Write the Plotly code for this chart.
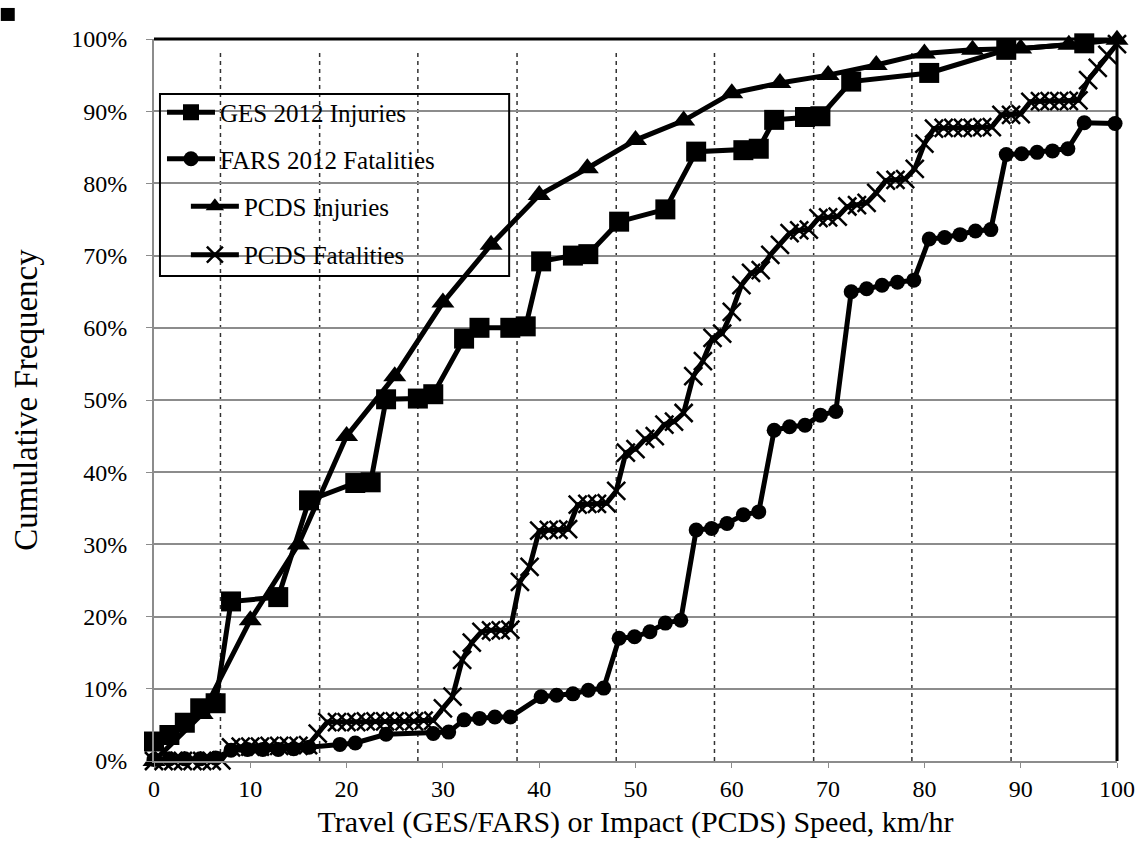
import plotly.graph_objects as go

# ---------------- data ----------------
ges_x = [0, 1.6, 3.2, 4.8, 6.4, 8.0, 12.9, 16.1, 20.9, 22.5, 24.1, 27.4, 29.0, 32.2, 33.8,
         37.0, 38.6, 40.2, 43.5, 45.1, 48.3, 53.1, 56.3, 61.2, 62.8, 64.4, 67.6, 69.2,
         72.4, 80.5, 88.5, 96.6]
ges_y = [2.7, 3.6, 5.3, 7.3, 8.0, 22.1, 22.7, 36.1, 38.5, 38.6, 50.1, 50.2, 50.8, 58.5, 60.0,
         60.0, 60.2, 69.2, 70.0, 70.2, 74.7, 76.4, 84.4, 84.6, 84.8, 88.8, 89.2, 89.3,
         94.1, 95.3, 98.5, 99.4]

fars_x = [0, 1.6, 3.2, 4.8, 6.4, 8.0, 9.7, 11.3, 12.9, 14.5, 16.1, 19.3, 20.9, 24.1, 29.0,
          30.6, 32.2, 33.8, 35.4, 37.0, 40.2, 41.8, 43.5, 45.1, 46.7, 48.3, 49.9, 51.5,
          53.1, 54.7, 56.3, 57.9, 59.5, 61.2, 62.8, 64.4, 66.0, 67.6, 69.2, 70.8, 72.4,
          74.0, 75.6, 77.2, 78.9, 80.5, 82.1, 83.7, 85.3, 86.9, 88.5, 90.1, 91.7, 93.3,
          94.9, 96.6, 99.8]
fars_y = [0.2, 0.3, 0.3, 0.3, 0.4, 1.5, 1.6, 1.6, 1.6, 1.7, 1.9, 2.3, 2.5, 3.7, 3.8,
          4.0, 5.7, 5.9, 6.1, 6.1, 8.9, 9.1, 9.3, 9.8, 10.1, 17.0, 17.2, 17.9,
          19.1, 19.5, 32.0, 32.2, 32.9, 34.1, 34.5, 45.8, 46.3, 46.5, 47.9, 48.4, 65.0,
          65.4, 65.9, 66.3, 66.6, 72.3, 72.5, 72.9, 73.4, 73.6, 84.0, 84.1, 84.3, 84.5,
          84.8, 88.4, 88.3]

pcds_inj_x = [0, 5, 10, 15, 20, 25, 30, 35, 40, 45, 50, 55, 60, 65, 70, 75, 80, 85, 90, 95, 100]
pcds_inj_y = [0.0, 6.5, 19.5, 30.0, 45.0, 53.3, 63.5, 71.5, 78.4, 82.1, 86.0, 88.7, 92.5,
              93.9, 95.0, 96.4, 98.0, 98.5, 98.7, 99.2, 99.9]

pcds_fat_x = [0, 1, 2, 3, 4, 5, 6, 7, 8, 9, 10, 11, 12, 13, 14, 15, 16, 17, 18, 19,
              20, 21, 22, 23, 24, 25, 26, 27, 28, 29, 30, 31, 32, 33, 34, 35, 36, 37, 38, 39,
              40, 41, 42, 43, 44, 45, 46, 47, 48, 49, 50, 51, 52, 53, 54, 55, 56, 57, 58, 59,
              60, 61, 62, 63, 64, 65, 66, 67, 68, 69, 70, 71, 72, 73, 74, 75, 76, 77, 78, 79,
              80, 81, 82, 83, 84, 85, 86, 87, 88, 89, 90, 91, 92, 93, 94, 95, 96, 97, 98, 99, 100]
pcds_fat_y = [0.0, 0.0, 0.0, 0.0, 0.0, 0.0, 0.0, 0.1, 1.9, 2.0, 2.0, 2.0, 2.1, 2.1, 2.1, 2.1, 2.2, 3.8,
              5.4, 5.4, 5.4, 5.4, 5.5, 5.5, 5.5, 5.5, 5.5, 5.5, 5.6, 5.6,
              7.3, 8.9, 14.0, 16.4, 17.9, 18.1, 18.1, 18.2, 24.8, 26.9,
              31.9, 32.0, 32.0, 32.1, 35.5, 35.6, 35.6, 35.7, 37.4, 42.7,
              43.2, 44.6, 45.0, 46.6, 47.0, 48.2, 53.3, 55.4, 58.6, 59.2,
              62.2, 65.9, 67.6, 68.0, 70.1, 71.5, 73.1, 73.5, 73.6, 75.2,
              75.3, 75.4, 76.8, 77.0, 77.3, 78.7, 80.4, 80.5, 80.6, 82.0,
              85.5, 87.6, 87.7, 87.7, 87.7, 87.7, 87.8, 87.8, 89.5, 89.5,
              89.6, 91.3, 91.4, 91.4, 91.4, 91.4, 91.5, 94.3, 96.0, 97.8, 99.3]

series_names = ["GES 2012 Injuries", "FARS 2012 Fatalities", "PCDS Injuries", "PCDS Fatalities"]

x_ticks = [0, 10, 20, 30, 40, 50, 60, 70, 80, 90, 100]
y_ticks = [0, 10, 20, 30, 40, 50, 60, 70, 80, 90, 100]
vgrid_x = [6.9, 17.2, 27.4, 37.7, 48.0, 58.2, 68.5, 78.7, 89.0]

x_title = "Travel (GES/FARS) or Impact (PCDS) Speed, km/hr"
y_title = "Cumulative Frequency"

# ---------------- figure ----------------
FONT = "Liberation Serif, Times New Roman, serif"
LINE = dict(color="black", width=5)

fig = go.Figure()
fig.add_trace(go.Scatter(x=ges_x, y=ges_y, name=series_names[0], mode="lines+markers",
                         line=LINE, marker=dict(symbol="square", size=20, color="black"),
                         cliponaxis=False, legendgroup="a", legend="legend"))
fig.add_trace(go.Scatter(x=fars_x, y=fars_y, name=series_names[1], mode="lines+markers",
                         line=LINE, marker=dict(symbol="circle", size=15, color="black"),
                         cliponaxis=False, legendgroup="b", legend="legend"))
fig.add_trace(go.Scatter(x=pcds_inj_x, y=pcds_inj_y, name=series_names[2], mode="lines+markers",
                         line=LINE, marker=dict(symbol="triangle-up", size=20, color="black"),
                         cliponaxis=False, legendgroup="c", legend="legend2"))
fig.add_trace(go.Scatter(x=pcds_fat_x, y=pcds_fat_y, name=series_names[3], mode="lines+markers",
                         line=LINE,
                         marker=dict(symbol="x-thin", size=18, color="black",
                                     line=dict(color="black", width=2.5)),
                         cliponaxis=False, legendgroup="d", legend="legend2"))

shapes = []
for vx in vgrid_x:
    shapes.append(dict(type="line", xref="x", yref="paper", x0=vx, x1=vx, y0=0, y1=0.985,
                       line=dict(color="#333333", width=1.5, dash="4px,4px"), layer="below"))
# top and right frame (black)
shapes.append(dict(type="line", xref="paper", yref="paper", x0=0, x1=1, y0=1, y1=1,
                   line=dict(color="black", width=3)))
shapes.append(dict(type="line", xref="paper", yref="paper", x0=1, x1=1, y0=0, y1=1,
                   line=dict(color="black", width=3)))
# legend frame
shapes.append(dict(type="rect", xref="paper", yref="paper", x0=0.0062, x1=0.3688,
                   y0=0.6717, y1=0.9238, line=dict(color="black", width=2),
                   fillcolor="rgba(0,0,0,0)"))
# small black square at the very top-left of the image
shapes.append(dict(type="rect", xref="paper", yref="paper", x0=-0.1591, x1=-0.1446,
                   y0=1.025, y1=1.043, fillcolor="black", line=dict(width=0)))

legend_common = dict(xanchor="left", yanchor="top", bgcolor="rgba(0,0,0,0)",
                     borderwidth=0, font=dict(family=FONT, size=25, color="black"),
                     traceorder="grouped", itemwidth=48)

fig.update_layout(
    width=1147, height=850,
    margin=dict(l=154, r=25, t=39, b=89),
    paper_bgcolor="white", plot_bgcolor="white",
    font=dict(family=FONT, color="black", size=24),
    showlegend=True,
    legend=dict(x=0.0083, y=0.930, tracegroupgap=11, **legend_common),
    legend2=dict(x=0.0331, y=0.800, tracegroupgap=13, **legend_common),
    shapes=shapes,
    xaxis=dict(range=[0, 100], tickvals=x_ticks, ticktext=[str(v) for v in x_ticks],
               showgrid=False, zeroline=False, showline=True, linecolor="#8c8c8c", linewidth=2,
               ticks="outside", ticklen=5, tickcolor="#8c8c8c", tickwidth=1,
               ticklabelstandoff=0,
               tickfont=dict(family=FONT, size=24, color="black"),
               title=dict(text=x_title, font=dict(family=FONT, size=30, color="black"), standoff=10)),
    yaxis=dict(range=[0, 100], tickvals=y_ticks, ticktext=[f"{v}%" for v in y_ticks],
               showgrid=True, gridcolor="#8c8c8c", gridwidth=2,
               zeroline=False, showline=True, linecolor="#8c8c8c", linewidth=2,
               ticks="outside", ticklen=6, tickcolor="#8c8c8c", tickwidth=1,
               ticklabelstandoff=14,
               tickfont=dict(family=FONT, size=24, color="black"),
               title=dict(text=y_title, font=dict(family=FONT, size=33, color="black"), standoff=24)),
)

# remove the default 8px page margin so the figure sits at the page origin
fig.write_html("out.html", config={"displayModeBar": False},
               post_script="document.body.style.margin='0';")
